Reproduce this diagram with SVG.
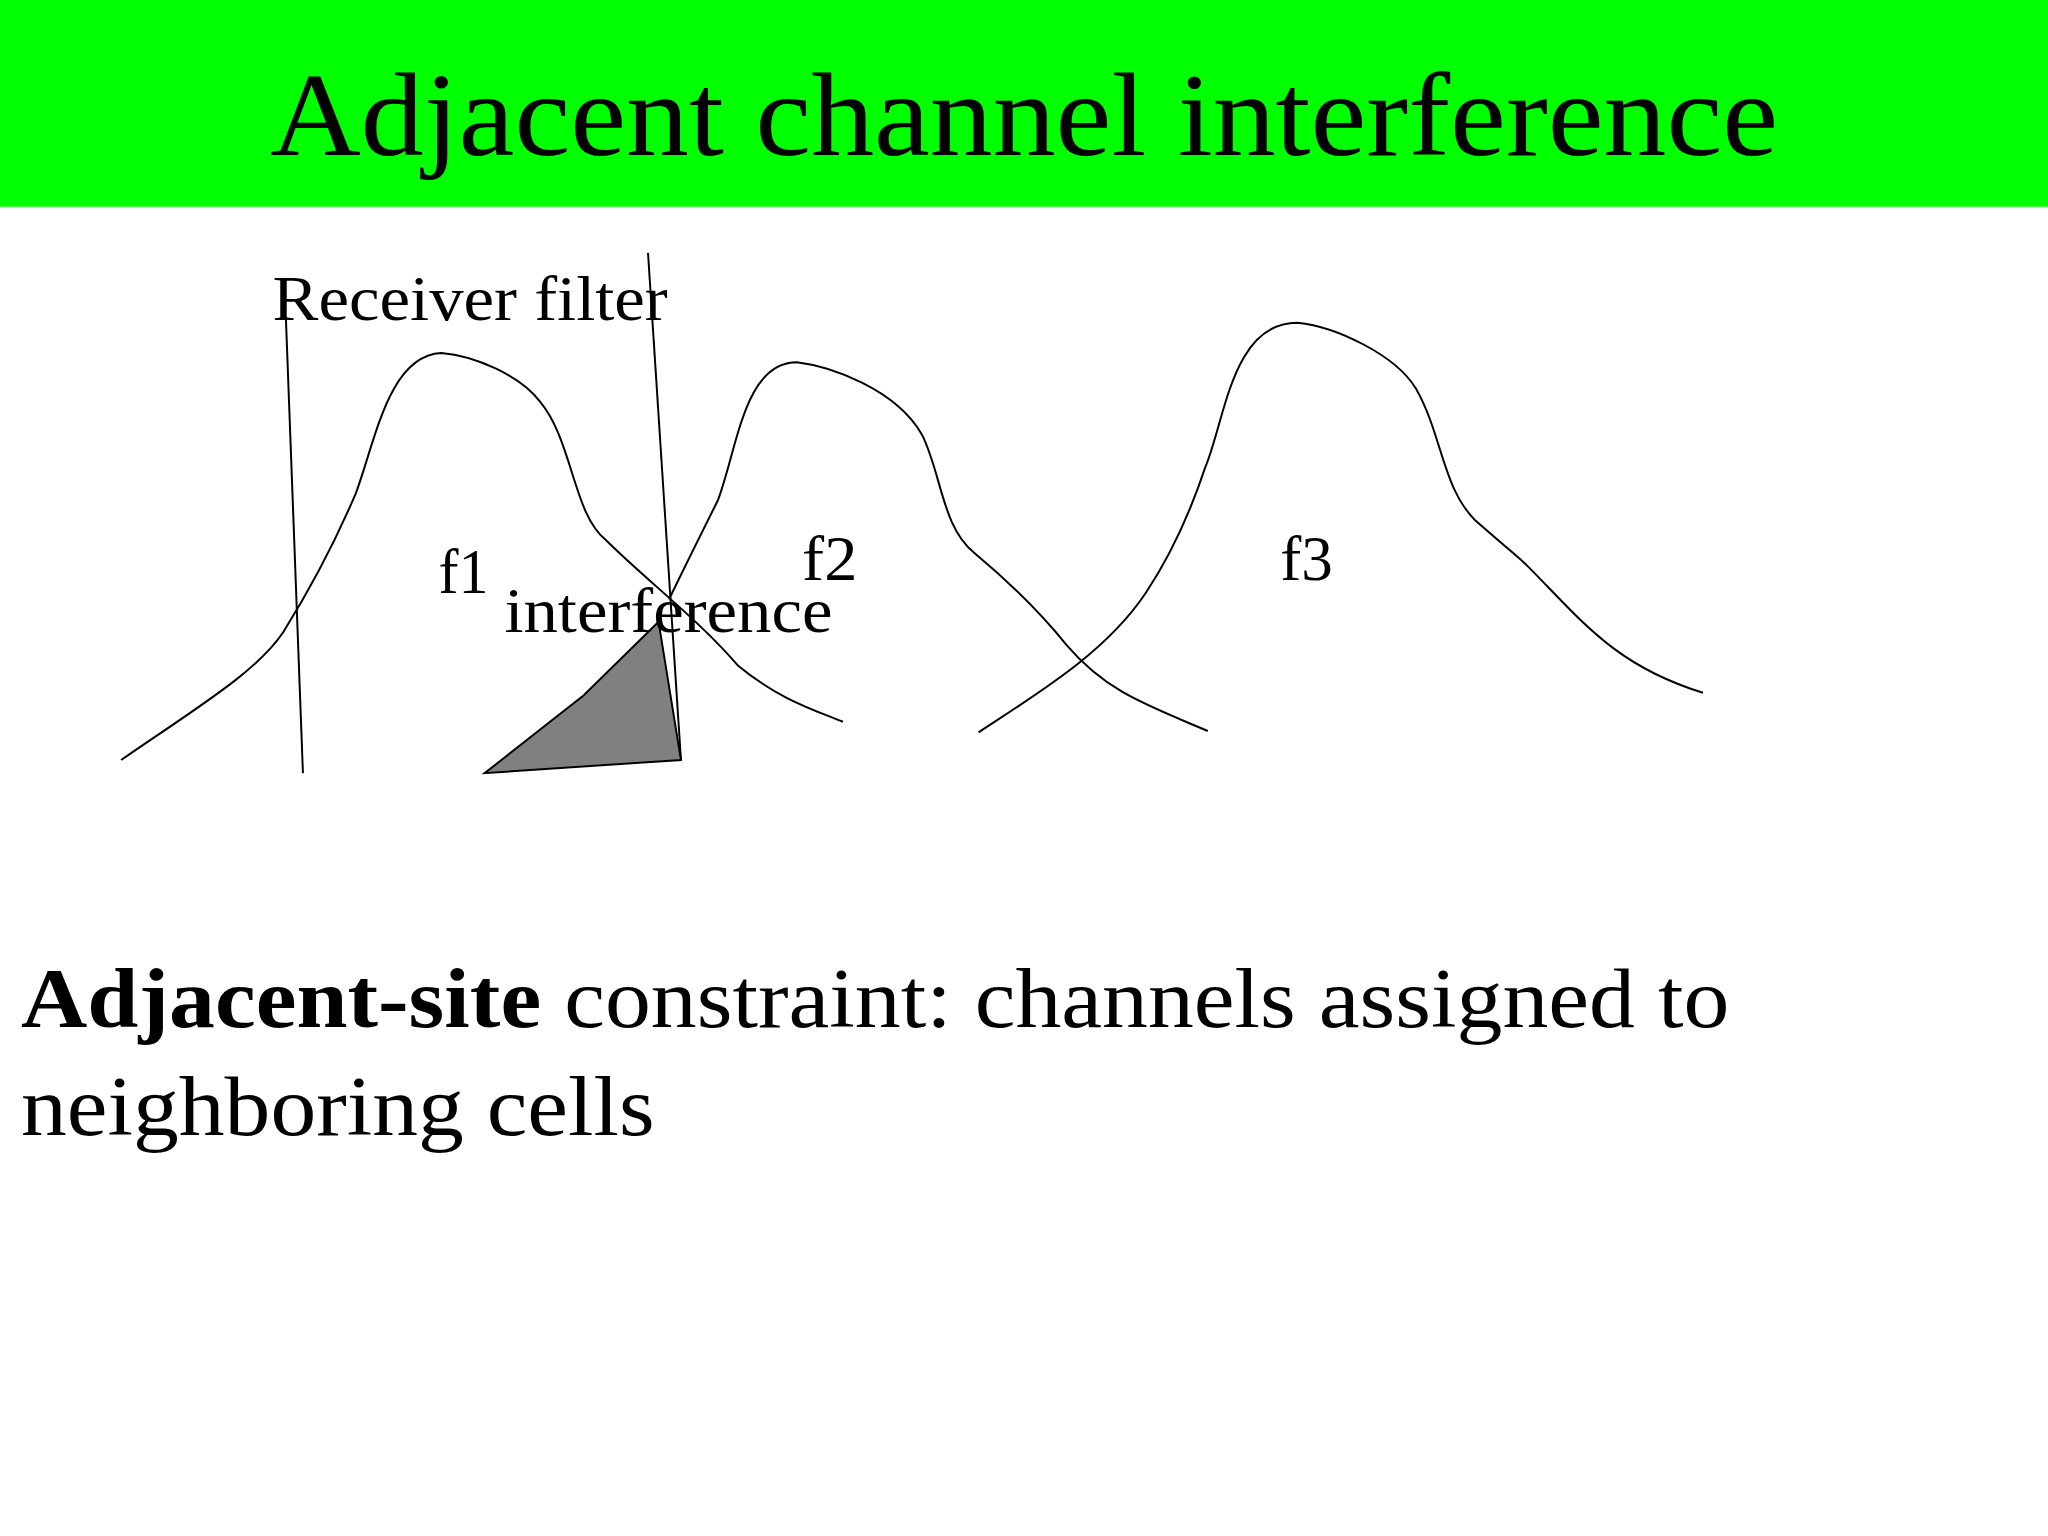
<svg xmlns="http://www.w3.org/2000/svg" width="2048" height="1536" viewBox="0 0 2048 1536">
<style>
text{font-family:"Liberation Serif","Times New Roman",serif;fill:#000}
.c{fill:none;stroke:#000;stroke-width:1.5}
.lbl{font-size:48px}
</style>
<rect width="2048" height="1536" fill="#fff"/>
<g transform="scale(1.3171)">
<g id="title"><rect x="0" y="0" width="1555" height="157" fill="#00ff00"/>
<text x="205" y="118" font-size="90" textLength="1145" lengthAdjust="spacingAndGlyphs">Adjacent channel interference</text></g>
<g id="connectors">
<path id="f1curve" class="c" d="M92,577 C150,537 195,510 215,480 C240,440 255,410 270,375 C285,335 295,270 335,268 C360,270 395,285 410,305 C435,335 435,390 460,410 C490,440 530,470 560,505 C590,530 615,538 640,548"/>
<path id="f2curve" class="c" d="M508,455 C520,430 535,400 545,380 C560,340 565,275 605,275 C630,278 680,295 700,330 C715,360 715,400 740,420 C770,445 790,465 810,490 C840,525 870,535 917,555"/>
<path id="f3curve" class="c" d="M743,556 C790,525 840,495 870,450 C890,420 905,385 915,355 C930,320 935,245 985,245 C1015,248 1060,270 1075,295 C1095,330 1095,370 1120,395 C1160,430 1150,420 1160,430 C1200,470 1225,505 1293,526"/>
<line class="c" x1="217" y1="240" x2="230" y2="587"/>
<line class="c" x1="492" y1="192" x2="517" y2="577"/>
<polygon points="368,587 443,528 500,472 517,577" fill="#808080" stroke="#000" stroke-width="1.5"/>
</g>
<g id="labels">
<text class="lbl" x="207" y="243" textLength="300" lengthAdjust="spacingAndGlyphs">Receiver filter</text>
<text class="lbl" x="333" y="450" textLength="38" lengthAdjust="spacingAndGlyphs">f1</text>
<text class="lbl" x="609" y="440" textLength="42" lengthAdjust="spacingAndGlyphs">f2</text>
<text class="lbl" x="972" y="440" textLength="40" lengthAdjust="spacingAndGlyphs">f3</text>
<text class="lbl" x="383" y="480" textLength="249" lengthAdjust="spacingAndGlyphs">interference</text>
</g>
<g id="caption">
<text x="16" y="780" font-size="64" textLength="1297" lengthAdjust="spacingAndGlyphs"><tspan font-weight="bold">Adjacent-site</tspan> constraint: channels assigned to</text>
<text x="16" y="862" font-size="64" textLength="481" lengthAdjust="spacingAndGlyphs">neighboring cells</text>
</g>
</g>
</svg>
